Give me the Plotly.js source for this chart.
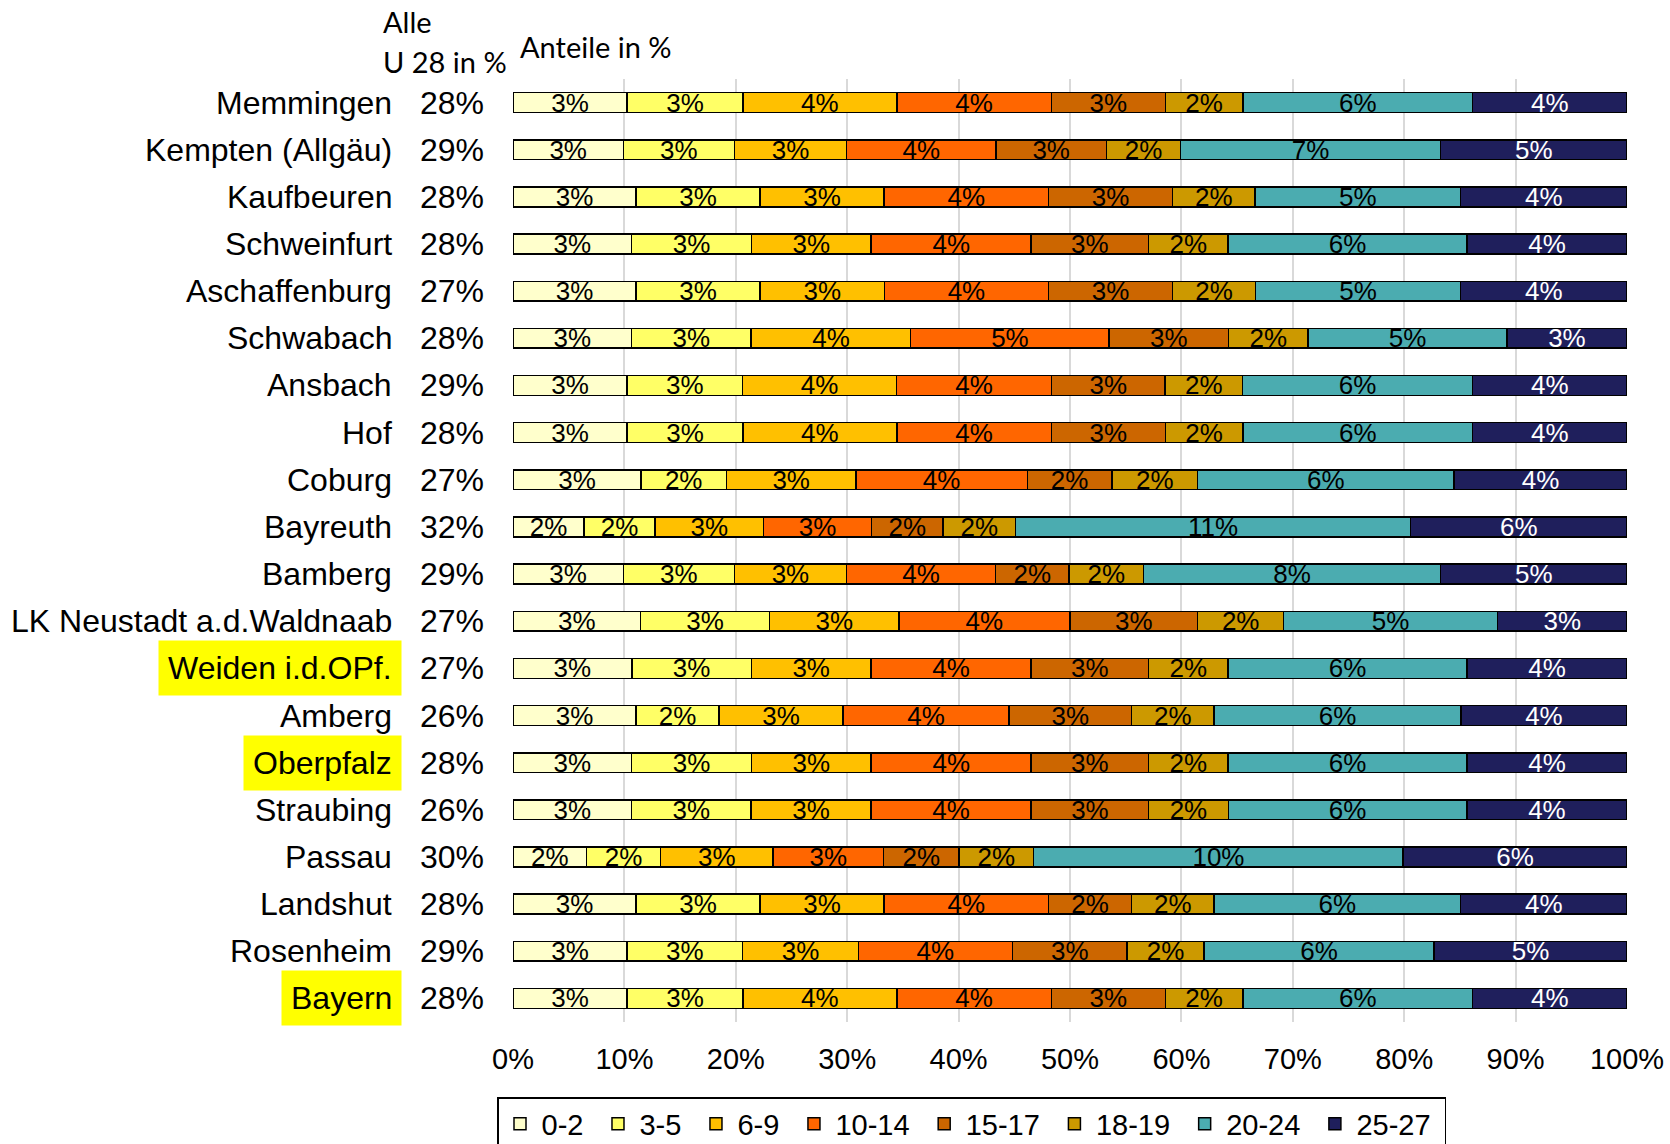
<!DOCTYPE html>
<html><head><meta charset="utf-8">
<script src="https://cdn.plot.ly/plotly-3.0.1.min.js"></script>
<style>html,body{margin:0;padding:0;background:#fff;} #chart{width:1670px;height:1144px;}</style>
</head><body><div id="chart"></div>
<script>
// ---- data (shares of population in %) ----
const regions = ["Memmingen","Kempten (Allgäu)","Kaufbeuren","Schweinfurt","Aschaffenburg","Schwabach","Ansbach","Hof","Coburg","Bayreuth","Bamberg","LK Neustadt a.d.Waldnaab","Weiden i.d.OPf.","Amberg","Oberpfalz","Straubing","Passau","Landshut","Rosenheim","Bayern"];
const totalsU28 = [28,29,28,28,27,28,29,28,27,32,29,27,27,26,28,26,30,28,29,28];
const highlighted = ["Weiden i.d.OPf.","Oberpfalz","Bayern"];
const ageGroups = ["0-2","3-5","6-9","10-14","15-17","18-19","20-24","25-27"];
const age0_2   = [2.87,2.87,3.09,2.98,2.98,2.98,2.97,2.87,3.10,2.04,2.87,3.09,2.88,2.87,2.98,2.77,1.98,3.09,2.97,2.87];
const age3_5   = [2.91,2.89,3.12,3.01,3.01,3.01,3.01,2.91,2.07,2.04,2.89,3.13,2.90,1.94,3.01,2.79,2.00,3.12,3.01,2.91];
const age6_9   = [3.87,2.92,3.12,3.01,3.01,4.01,4.01,3.87,3.14,3.11,2.92,3.13,2.90,2.90,3.01,2.80,3.02,3.12,3.01,3.87];
const age10_14 = [3.89,3.88,4.13,4.02,3.98,4.99,4.03,3.89,4.15,3.11,3.88,4.14,3.88,3.87,4.02,3.74,2.99,4.13,4.01,3.89];
const age15_17 = [2.86,2.88,3.12,2.95,3.01,3.00,2.96,2.86,2.05,2.05,1.91,3.10,2.85,2.86,2.95,2.74,2.03,2.09,2.99,2.86];
const age18_19 = [1.95,1.93,2.07,2.00,2.00,2.00,2.02,1.95,2.08,2.08,1.94,2.08,1.93,1.93,2.00,1.86,2.01,2.07,2.00,1.95];
const age20_24 = [5.78,6.76,5.17,6.00,4.98,5.00,5.99,5.78,6.21,11.34,7.73,5.18,5.79,5.76,6.00,5.57,9.96,6.20,5.99,5.78];
const age25_27 = [3.88,4.85,4.18,4.02,4.03,3.02,4.02,3.88,4.19,6.22,4.85,3.14,3.88,3.88,4.02,3.74,6.03,4.18,5.02,3.88];
const xTickVals = [0,10,20,30,40,50,60,70,80,90,100];

// ---- styles ----
const colors = ["#FFFFCC","#FFFF66","#FFC000","#FF6600","#CC6600","#CC9900","#4BACB0","#1F1F5C"];
const textColors = ["#000","#000","#000","#000","#000","#000","#000","#fff"];
const FONT = "Liberation Sans, Arial, sans-serif";
const HFONT = "Lato, Carlito, sans-serif";

const series = [age0_2,age3_5,age6_9,age10_14,age15_17,age18_19,age20_24,age25_27];
const traces = series.map((vals,i)=>({
  type:'bar', orientation:'h', name:ageGroups[i] + '\u00a0', y:regions, x:vals,
  text: vals.map(v=>Math.round(v)+'%'),
  textposition:'inside', insidetextanchor:'middle', constraintext:'none', textangle:0,
  textfont:{family:FONT, size:26, color:textColors[i]},
  marker:{color:colors[i], line:{color:'#000', width:1.5}},
  hovertemplate:'%{y}: %{text}<extra>'+ageGroups[i]+'</extra>'
}));

const W=1670, H=1144, ML=513, MR=43, MT=79, MB=122;
const PW=W-ML-MR, PH=H-MT-MB;
const px = x => (x-ML)/PW;
const py = y => (H-MB-y)/PH;

const annotations = [];
regions.forEach((r,i)=>{
  annotations.push({xref:'paper', yref:'y', x:px(402), y:r, xanchor:'right', yanchor:'middle',
    text:r, showarrow:false, font:{family:FONT, size:32, color:'#000'},
    bgcolor: highlighted.includes(r) ? '#FFFF00' : 'rgba(0,0,0,0)', borderpad:9});
  annotations.push({xref:'paper', yref:'y', x:px(485), y:r, xanchor:'right', yanchor:'middle',
    text:totalsU28[i]+'%', showarrow:false, font:{family:FONT, size:32, color:'#000'}, borderpad:0});
});
annotations.push({xref:'paper', yref:'paper', x:px(382), y:py(22), xanchor:'left', yanchor:'middle',
  text:'Alle', showarrow:false, font:{family:HFONT, size:29, color:'#000'}, borderpad:0});
annotations.push({xref:'paper', yref:'paper', x:px(382), y:py(61), xanchor:'left', yanchor:'middle',
  text:'U 28 in %', showarrow:false, font:{family:HFONT, size:29, color:'#000'}, borderpad:0});
annotations.push({xref:'paper', yref:'paper', x:px(519), y:py(46), xanchor:'left', yanchor:'middle',
  text:'Anteile in %', showarrow:false, font:{family:HFONT, size:29, color:'#000'}, borderpad:0});

const layout = {
  width:W, height:H, margin:{l:ML, r:MR, t:MT, b:MB, pad:0, autoexpand:false},
  barmode:'stack', barnorm:'percent', bargap:0.58,
  paper_bgcolor:'#fff', plot_bgcolor:'#fff',
  font:{family:FONT, color:'#000'},
  xaxis:{range:[0,100], tickmode:'array', tickvals:xTickVals, ticktext:xTickVals.map(v=>v+'%'),
    showgrid:true, gridcolor:'#D9D9D9', gridwidth:2, zeroline:false, showline:false, ticks:'',
    ticklabelstandoff:17,
    tickfont:{family:FONT, size:29, color:'#000'}, fixedrange:true},
  yaxis:{type:'category', categoryorder:'array', categoryarray:regions, autorange:false,
    range:[regions.length - 0.5, -0.5],
    showticklabels:false, showgrid:false, zeroline:false, ticks:'', fixedrange:true},
  showlegend:true,
  legend:{orientation:'h', x:px(497), y:py(1097), xanchor:'left', yanchor:'top',
    bordercolor:'#000', borderwidth:1.5, bgcolor:'#fff', font:{family:FONT, size:29, color:'#000'},
    traceorder:'normal', itemwidth:33},
  annotations:annotations
};
Plotly.newPlot('chart', traces, layout, {displayModeBar:false, responsive:false});
</script>
</body></html>
